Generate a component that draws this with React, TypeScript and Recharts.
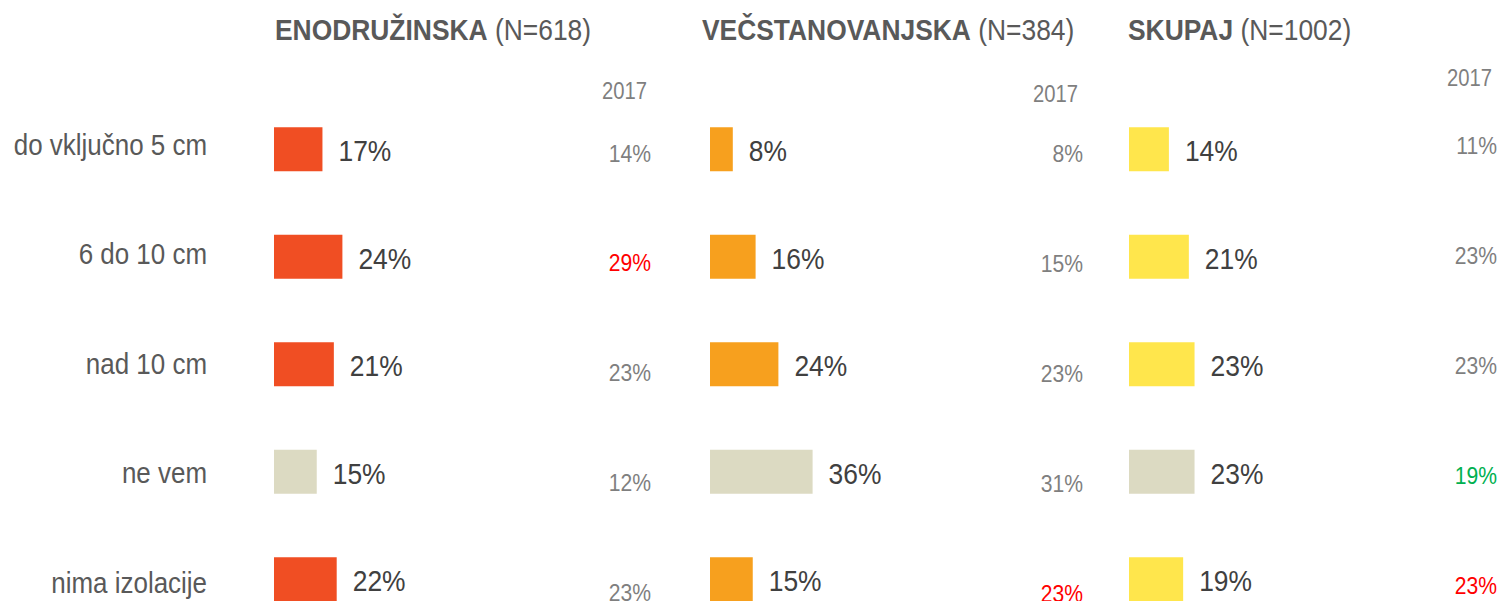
import React from 'react';
import { BarChart, Bar, XAxis, YAxis, Cell, LabelList } from 'recharts';

const categories = ['do vključno 5 cm', '6 do 10 cm', 'nad 10 cm', 'ne vem', 'nima izolacije'];

const enodruzinska = [17, 24, 21, 15, 22];
const enodruzinska2017 = [14, 29, 23, 12, 23];
const enodruzinskaChange = ['', 'down', '', '', ''];

const vecstanovanjska = [8, 16, 24, 36, 15];
const vecstanovanjska2017 = [8, 15, 23, 31, 23];
const vecstanovanjskaChange = ['', '', '', '', 'down'];

const skupaj = [14, 21, 23, 23, 19];
const skupaj2017 = [11, 23, 23, 19, 23];
const skupajChange = ['', '', '', 'up', 'down'];

const panelTitles = ['ENODRUŽINSKA', 'VEČSTANOVANJSKA', 'SKUPAJ'];
const panelN = ['(N=618)', '(N=384)', '(N=1002)'];
const prevYearLabel = '2017';

const FONT = "'Liberation Sans', Arial, sans-serif";
const S = 0.88; // horizontal squeeze to mimic a narrow face
const BEIGE = '#DCDAC2';

const changeColor = (c: string) => (c === 'down' ? '#FF0000' : c === 'up' ? '#00B050' : '#7F7F7F');

const NarrowText = ({ x, y, anchor, size, fill, weight, children }: any) => (
  <text
    transform={`translate(${x},${y}) scale(${S},1)`}
    x={0}
    y={0}
    dy="0.36em"
    textAnchor={anchor}
    fontSize={size}
    fontFamily={FONT}
    fontWeight={weight}
    fill={fill}
  >
    {children}
  </text>
);

const CatTick = (props: any) => (
  <NarrowText x={props.x} y={props.y} anchor="end" size={29.5} fill="#595959">
    {props.payload.value}
  </NarrowText>
);

type PanelProps = {
  values: number[];
  prev: number[];
  change: string[];
  color: string;
  left: number;
  width: number;
  rightWidth: number;
  prevMargin: number;
  prevPad: { top: number; bottom: number };
  showCats: boolean;
};

function Panel(p: PanelProps) {
  const data = categories.map((cat, i) => ({ cat, v: p.values[i], prev: p.prev[i], ch: p.change[i] }));
  const PrevTick = (props: any) => {
    const d = data[categories.indexOf(props.payload.value)];
    return (
      <NarrowText x={props.x} y={props.y} anchor="end" size={24} fill={changeColor(d.ch)}>
        {`${d.prev}%`}
      </NarrowText>
    );
  };
  const ValueLabel = (props: any) => {
    const { x, y, width, height, value } = props;
    return (
      <NarrowText x={Number(x) + Number(width) + 16} y={Number(y) + Number(height) / 2 + 1} anchor="start" size={30} fill="#404040">
        {`${value}%`}
      </NarrowText>
    );
  };
  return (
    <div style={{ position: 'absolute', left: p.left, top: 0 }}>
      <BarChart
        width={p.width}
        height={660}
        data={data}
        layout="vertical"
        margin={{ top: 88, right: 0, bottom: 10, left: 0 }}
      >
        <XAxis type="number" domain={[0, 100]} hide />
        <YAxis yAxisId="bars" type="category" dataKey="cat" hide width={0} padding={{ top: 7.25, bottom: 17.25 }} />
        {p.showCats && (
          <YAxis
            yAxisId="cats"
            type="category"
            dataKey="cat"
            width={274}
            axisLine={false}
            tickLine={false}
            tickSize={0}
            tickMargin={67}
            padding={{ top: 1.25, bottom: 13.25 }}
            tick={<CatTick />}
            interval={0}
          />
        )}
        <YAxis
          yAxisId="prev"
          orientation="right"
          type="category"
          dataKey="cat"
          width={p.rightWidth}
          axisLine={false}
          tickLine={false}
          tickSize={0}
          tickMargin={p.prevMargin}
          padding={p.prevPad}
          tick={<PrevTick />}
          interval={0}
        />
        <Bar yAxisId="bars" dataKey="v" barSize={44} isAnimationActive={false}>
          {data.map((d, i) => (
            <Cell key={i} fill={d.cat === 'ne vem' ? BEIGE : p.color} />
          ))}
          <LabelList dataKey="v" content={<ValueLabel />} />
        </Bar>
      </BarChart>
    </div>
  );
}

export default function App() {
  return (
    <div style={{ position: 'absolute', left: 0, top: 0, width: 1503, height: 601, overflow: 'hidden', background: '#fff' }}>
      <Panel
        values={enodruzinska}
        prev={enodruzinska2017}
        change={enodruzinskaChange}
        color="#F04E23"
        left={0}
        width={659}
        rightWidth={100}
        prevMargin={92}
        prevPad={{ top: 10, bottom: 3 }}
        showCats
      />
      <Panel
        values={vecstanovanjska}
        prev={vecstanovanjska2017}
        change={vecstanovanjskaChange}
        color="#F7A01E"
        left={710}
        width={385}
        rightWidth={100}
        prevMargin={88}
        prevPad={{ top: 10, bottom: 2 }}
        showCats={false}
      />
      <Panel
        values={skupaj}
        prev={skupaj2017}
        change={skupajChange}
        color="#FFE64C"
        left={1129}
        width={374}
        rightWidth={89}
        prevMargin={83}
        prevPad={{ top: 2, bottom: 10 }}
        showCats={false}
      />
      <svg width={1503} height={601} style={{ position: 'absolute', left: 0, top: 0, pointerEvents: 'none' }}>
        {[275, 702, 1128].map((x, i) => (
          <text key={i} transform={`translate(${x},40) scale(${S},1)`} fontSize={30} fontFamily={FONT} fill="#595959">
            <tspan fontWeight="bold">{panelTitles[i]}</tspan>
            <tspan> {panelN[i]}</tspan>
          </text>
        ))}
        {[
          [647, 91],
          [1078, 94],
          [1492, 77.5],
        ].map(([x, y], i) => (
          <NarrowText key={i} x={x} y={y} anchor="end" size={23} fill="#7F7F7F">
            {prevYearLabel}
          </NarrowText>
        ))}
      </svg>
    </div>
  );
}
